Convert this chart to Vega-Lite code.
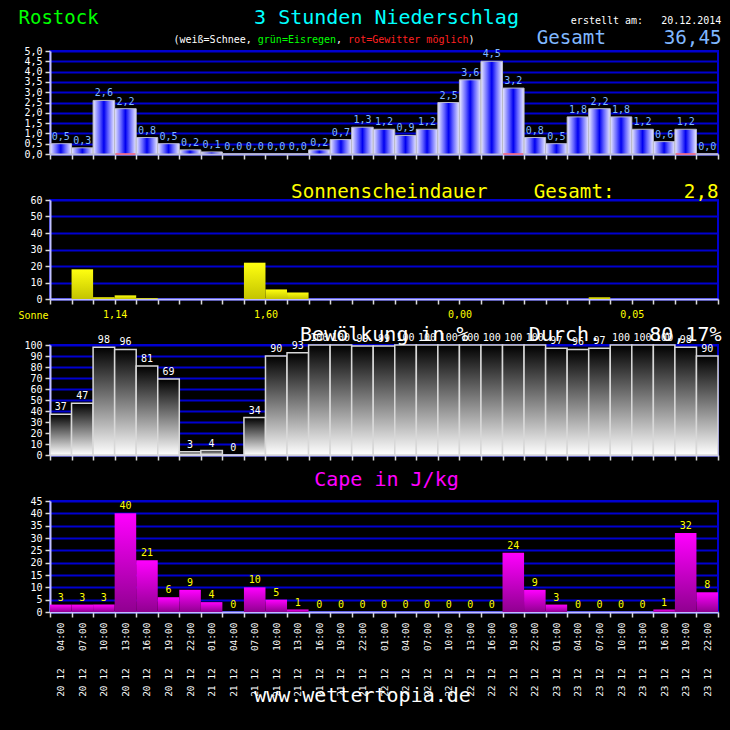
{
  "$schema": "https://vega.github.io/schema/vega-lite/v6.json",
  "background": "black",
  "padding": {"left": 17, "top": 6, "right": 13, "bottom": 30},
  "autosize": {"type": "pad"},
  "bounds": "flush",
  "spacing": 46,
  "config": {
    "locale": {"number": {"decimal": ",", "thousands": ".", "grouping": [3], "currency": ["", " €"]}},
    "font": "DejaVu Sans Mono",
    "view": {"stroke": "#0000d0", "strokeWidth": 2},
    "axis": {
      "labelFont": "DejaVu Sans Mono", "labelFontSize": 10, "labelColor": "white",
      "titleFont": "DejaVu Sans Mono", "titleFontWeight": "normal",
      "titleAngle": 0, "titleBaseline": "alphabetic",
      "domainColor": "#c0c0ff", "domainWidth": 2,
      "tickColor": "#d8d8d8", "tickWidth": 1.5, "tickSize": 5,
      "gridColor": "#0000d0", "gridWidth": 2, "gridOpacity": 1,
      "labelPadding": 3
    },
    "axisX": {"grid": false, "tickBand": "extent", "labels": false},
    "text": {"font": "DejaVu Sans Mono"}
  },
  "datasets": {
    "d": [
      {"t": "20.12 04:00", "p": 0.5, "s": 0, "c": 37, "k": 3, "g": 0},
      {"t": "20.12 07:00", "p": 0.3, "s": 18, "c": 47, "k": 3, "g": 0},
      {"t": "20.12 10:00", "p": 2.6, "s": 1, "c": 98, "k": 3, "g": 0},
      {"t": "20.12 13:00", "p": 2.2, "s": 2.2, "c": 96, "k": 40, "g": 1},
      {"t": "20.12 16:00", "p": 0.8, "s": 0.5, "c": 81, "k": 21, "g": 0},
      {"t": "20.12 19:00", "p": 0.5, "s": 0, "c": 69, "k": 6, "g": 0},
      {"t": "20.12 22:00", "p": 0.2, "s": 0, "c": 3, "k": 9, "g": 0},
      {"t": "21.12 01:00", "p": 0.1, "s": 0, "c": 4, "k": 4, "g": 0},
      {"t": "21.12 04:00", "p": 0.0, "s": 0, "c": 0, "k": 0, "g": 0},
      {"t": "21.12 07:00", "p": 0.0, "s": 22, "c": 34, "k": 10, "g": 0},
      {"t": "21.12 10:00", "p": 0.0, "s": 5.8, "c": 90, "k": 5, "g": 0},
      {"t": "21.12 13:00", "p": 0.0, "s": 4, "c": 93, "k": 1, "g": 0},
      {"t": "21.12 16:00", "p": 0.2, "s": 0, "c": 100, "k": 0, "g": 0},
      {"t": "21.12 19:00", "p": 0.7, "s": 0, "c": 100, "k": 0, "g": 0},
      {"t": "21.12 22:00", "p": 1.3, "s": 0, "c": 99, "k": 0, "g": 0},
      {"t": "22.12 01:00", "p": 1.2, "s": 0, "c": 99, "k": 0, "g": 0},
      {"t": "22.12 04:00", "p": 0.9, "s": 0, "c": 100, "k": 0, "g": 0},
      {"t": "22.12 07:00", "p": 1.2, "s": 0, "c": 100, "k": 0, "g": 0},
      {"t": "22.12 10:00", "p": 2.5, "s": 0, "c": 100, "k": 0, "g": 0},
      {"t": "22.12 13:00", "p": 3.6, "s": 0, "c": 100, "k": 0, "g": 0},
      {"t": "22.12 16:00", "p": 4.5, "s": 0, "c": 100, "k": 0, "g": 0},
      {"t": "22.12 19:00", "p": 3.2, "s": 0, "c": 100, "k": 24, "g": 1},
      {"t": "22.12 22:00", "p": 0.8, "s": 0, "c": 100, "k": 9, "g": 0},
      {"t": "23.12 01:00", "p": 0.5, "s": 0, "c": 97, "k": 3, "g": 0},
      {"t": "23.12 04:00", "p": 1.8, "s": 0, "c": 96, "k": 0, "g": 0},
      {"t": "23.12 07:00", "p": 2.2, "s": 1, "c": 97, "k": 0, "g": 0},
      {"t": "23.12 10:00", "p": 1.8, "s": 0, "c": 100, "k": 0, "g": 0},
      {"t": "23.12 13:00", "p": 1.2, "s": 0, "c": 100, "k": 0, "g": 0},
      {"t": "23.12 16:00", "p": 0.6, "s": 0, "c": 100, "k": 1, "g": 0},
      {"t": "23.12 19:00", "p": 1.2, "s": 0, "c": 98, "k": 32, "g": 1},
      {"t": "23.12 22:00", "p": 0.0, "s": 0, "c": 90, "k": 8, "g": 0}
    ]
  },
  "vconcat": [
    {
      "width": 668, "height": 103,
      "data": {"name": "d"},
      "resolve": {"axis": {"x": "independent", "y": "independent"}},
      "layer": [
        {
          "mark": {"type": "bar", "stroke": "#b8b8c8", "strokeWidth": 1,
            "fill": {"gradient": "linear", "x1": 0, "x2": 1, "y1": 0, "y2": 0,
              "stops": [{"offset": 0, "color": "#ececff"}, {"offset": 0.3, "color": "#6464ff"}, {"offset": 0.5, "color": "#0000f0"}, {"offset": 0.7, "color": "#6464ff"}, {"offset": 1, "color": "#ececff"}]}},
          "encoding": {
            "x": {"field": "t", "type": "ordinal", "scale": {"paddingInner": 0, "paddingOuter": 0},
              "axis": {"orient": "bottom", "title": "3 Stunden Niederschlag", "titleX": 336, "titleY": -131, "titleAlign": "center", "titleColor": "#00ffff", "titleFontSize": 20}},
            "y": {"field": "p", "type": "quantitative", "scale": {"domain": [0, 5], "nice": false},
              "axis": {"orient": "left", "values": [0, 0.5, 1, 1.5, 2, 2.5, 3, 3.5, 4, 4.5, 5], "format": ".1f", "title": "Rostock", "titleX": -32, "titleY": -28, "titleAlign": "left", "titleColor": "#00ff00", "titleFontSize": 19}}
          }
        },
        {
          "mark": {"type": "text", "baseline": "alphabetic", "dy": -4, "fontSize": 10, "color": "#80b8ff", "font": "DejaVu Sans Mono"},
          "encoding": {
            "x": {"field": "t", "type": "ordinal", "scale": {"paddingInner": 0, "paddingOuter": 0},
              "axis": {"orient": "top", "domain": false, "ticks": false, "labels": false,
                "title": ["\u200b\u00a0\u00a0\u00a0\u00a0\u00a0\u00a0\u00a0\u00a0\u00a0\u00a0\u00a0\u00a0\u00a0\u00a0\u00a0\u00a0\u00a0\u00a0\u00a0\u00a0\u00a0\u00a0\u00a0\u00a0\u00a0\u00a0\u00a0\u00a0\u00a0\u00a0\u00a0\u00a0\u00a0\u00a0\u00a0\u00a0\u00a0\u00a0\u00a0\u00a0\u00a0\u00a0\u00a0\u00a0\u00a0\u00a0\u00a0\u00a0\u00a0\u00a0\u00a0\u00a0\u00a0\u00a0\u00a0\u00a0\u00a0\u00a0\u00a0\u00a0\u00a0\u00a0\u00a0\u00a0\u00a0\u00a0erstellt am:\u00a0\u00a0\u00a020.12.2014", "(weiß=Schnee,\u00a0\u00a0\u00a0\u00a0\u00a0\u00a0\u00a0\u00a0\u00a0\u00a0\u00a0\u00a0\u00a0\u00a0,\u00a0\u00a0\u00a0\u00a0\u00a0\u00a0\u00a0\u00a0\u00a0\u00a0\u00a0\u00a0\u00a0\u00a0\u00a0\u00a0\u00a0\u00a0\u00a0\u00a0\u00a0)"],
                "titleX": 123, "titleY": -28, "titleAlign": "left", "titleColor": "white", "titleFontSize": 10, "titleLineHeight": 19}},
            "y": {"field": "p", "type": "quantitative",
              "axis": {"orient": "right", "domain": false, "ticks": false, "labels": false, "grid": false,
                "title": "Gesamt\u00a0\u00a0\u00a0\u00a0\u00a036,45", "titleX": 3, "titleY": -8, "titleAlign": "right", "titleColor": "#80b8ff", "titleFontSize": 19.2}},
            "text": {"field": "p", "type": "quantitative", "format": ".1f"}
          }
        },
        {
          "transform": [{"filter": "datum.g == 1"}],
          "mark": {"type": "tick", "color": "#ff5a78", "thickness": 2, "size": 20},
          "encoding": {
            "x": {"field": "t", "type": "ordinal", "scale": {"paddingInner": 0, "paddingOuter": 0},
              "axis": {"orient": "top", "domain": false, "ticks": false, "labels": false,
                "title": "grün=Eisregen",
                "titleX": 207.3, "titleY": -9, "titleAlign": "left", "titleColor": "#00ff00", "titleFontSize": 10}},
            "y": {"datum": 0, "type": "quantitative",
              "axis": {"orient": "right", "domain": false, "ticks": false, "labels": false, "grid": false,
                "title": "rot=Gewitter möglich",
                "titleX": -370.4, "titleY": -9, "titleAlign": "left", "titleColor": "#ff2020", "titleFontSize": 10}}
          }
        }
      ]
    },
    {
      "width": 668, "height": 99,
      "data": {"name": "d"},
      "mark": {"type": "bar",
        "fill": {"gradient": "linear", "x1": 0, "x2": 0, "y1": 0, "y2": 1,
          "stops": [{"offset": 0, "color": "#ffff10"}, {"offset": 1, "color": "#c4c400"}]}},
      "encoding": {
        "x": {"field": "t", "type": "ordinal", "scale": {"paddingInner": 0, "paddingOuter": 0},
          "axis": {"orient": "bottom", "labels": true, "labelAngle": 0, "labelOverlap": false,
            "labelExpr": "datum.value == '20.12 13:00' ? '1,14' : datum.value == '21.12 10:00' ? '1,60' : datum.value == '22.12 13:00' ? '0,00' : datum.value == '23.12 13:00' ? '0,05' : ''",
            "labelOffset": -10.77, "labelColor": "#ffff00", "labelPadding": 5,
            "title": "Sonne", "titleX": -32, "titleY": 19, "titleAlign": "left", "titleColor": "#ffff00", "titleFontSize": 10}},
        "y": {"field": "s", "type": "quantitative", "scale": {"domain": [0, 60], "nice": false},
          "axis": {"values": [0, 10, 20, 30, 40, 50, 60],
            "title": "Sonnenscheindauer\u00a0\u00a0\u00a0\u00a0Gesamt:\u00a0\u00a0\u00a0\u00a0\u00a0\u00a02,8", "titleX": 668, "titleY": -3, "titleAlign": "right", "titleColor": "#ffff00", "titleFontSize": 19.2}}
      }
    },
    {
      "width": 668, "height": 110,
      "data": {"name": "d"},
      "resolve": {"axis": {"y": "independent"}},
      "layer": [
        {
          "mark": {"type": "bar", "stroke": "#d8d8d8", "strokeWidth": 1.5,
            "fill": {"gradient": "linear", "x1": 0, "x2": 0, "y1": 0, "y2": 1,
              "stops": [{"offset": 0, "color": "#000000"}, {"offset": 1, "color": "#ffffff"}]}},
          "encoding": {
            "x": {"field": "t", "type": "ordinal", "scale": {"paddingInner": 0, "paddingOuter": 0}, "axis": {"orient": "bottom", "title": null}},
            "y": {"field": "c", "type": "quantitative", "scale": {"domain": [0, 100], "nice": false},
              "axis": {"orient": "left", "values": [0, 10, 20, 30, 40, 50, 60, 70, 80, 90, 100], "title": null}}
          }
        },
        {
          "mark": {"type": "text", "baseline": "alphabetic", "dy": -4, "fontSize": 10, "color": "white", "font": "DejaVu Sans Mono"},
          "encoding": {
            "x": {"field": "t", "type": "ordinal", "scale": {"paddingInner": 0, "paddingOuter": 0}},
            "y": {"field": "c", "type": "quantitative",
              "axis": {"orient": "right", "domain": false, "ticks": false, "labels": false, "grid": false, "zindex": 2,
                "title": "Bewölkung in %\u00a0\u00a0\u00a0\u00a0\u00a0Durch.\u00a0\u00a0\u00a0\u00a080,17%", "titleX": 3, "titleY": -5, "titleAlign": "right", "titleColor": "white", "titleFontSize": 20}},
            "text": {"field": "c", "type": "quantitative"}
          }
        }
      ]
    },
    {
      "width": 668, "height": 111,
      "data": {"name": "d"},
      "resolve": {"axis": {"y": "independent"}},
      "layer": [
        {
          "transform": [{"filter": "datum.k > 0"}],
          "mark": {"type": "bar",
            "fill": {"gradient": "linear", "x1": 0, "x2": 0, "y1": 0, "y2": 1,
              "stops": [{"offset": 0, "color": "#ff00ff"}, {"offset": 1, "color": "#900090"}]}},
          "encoding": {
            "x": {"field": "t", "type": "ordinal", "scale": {"paddingInner": 0, "paddingOuter": 0},
              "axis": {"orient": "bottom", "labels": true, "labelAngle": 270, "labelOverlap": false, "labelFontSize": 9.5, "labelPadding": 5,
                "labelExpr": "isString(datum.value) ? replace(replace(datum.value, '.', '\u00a0'), ' ', '\u00a0\u00a0\u00a0') : ''",
                "title": "www.wettertopia.de", "titleX": 312, "titleY": 89, "titleAlign": "center", "titleColor": "white", "titleFontSize": 20}},
            "y": {"field": "k", "type": "quantitative", "scale": {"domain": [0, 45], "nice": false},
              "axis": {"orient": "left", "values": [0, 5, 10, 15, 20, 25, 30, 35, 40, 45],
                "title": "Cape in J/kg", "titleX": 336, "titleY": -16, "titleAlign": "center", "titleColor": "#ff00ff", "titleFontSize": 20}}
          }
        },
        {
          "mark": {"type": "text", "baseline": "alphabetic", "dy": -4, "fontSize": 10, "color": "#ffff00", "font": "DejaVu Sans Mono"},
          "encoding": {
            "x": {"field": "t", "type": "ordinal", "scale": {"paddingInner": 0, "paddingOuter": 0}},
            "y": {"field": "k", "type": "quantitative",
              "axis": {"orient": "right", "domain": false, "ticks": false, "labels": false, "grid": false, "title": null}},
            "text": {"field": "k", "type": "quantitative"}
          }
        }
      ]
    }
  ]
}
